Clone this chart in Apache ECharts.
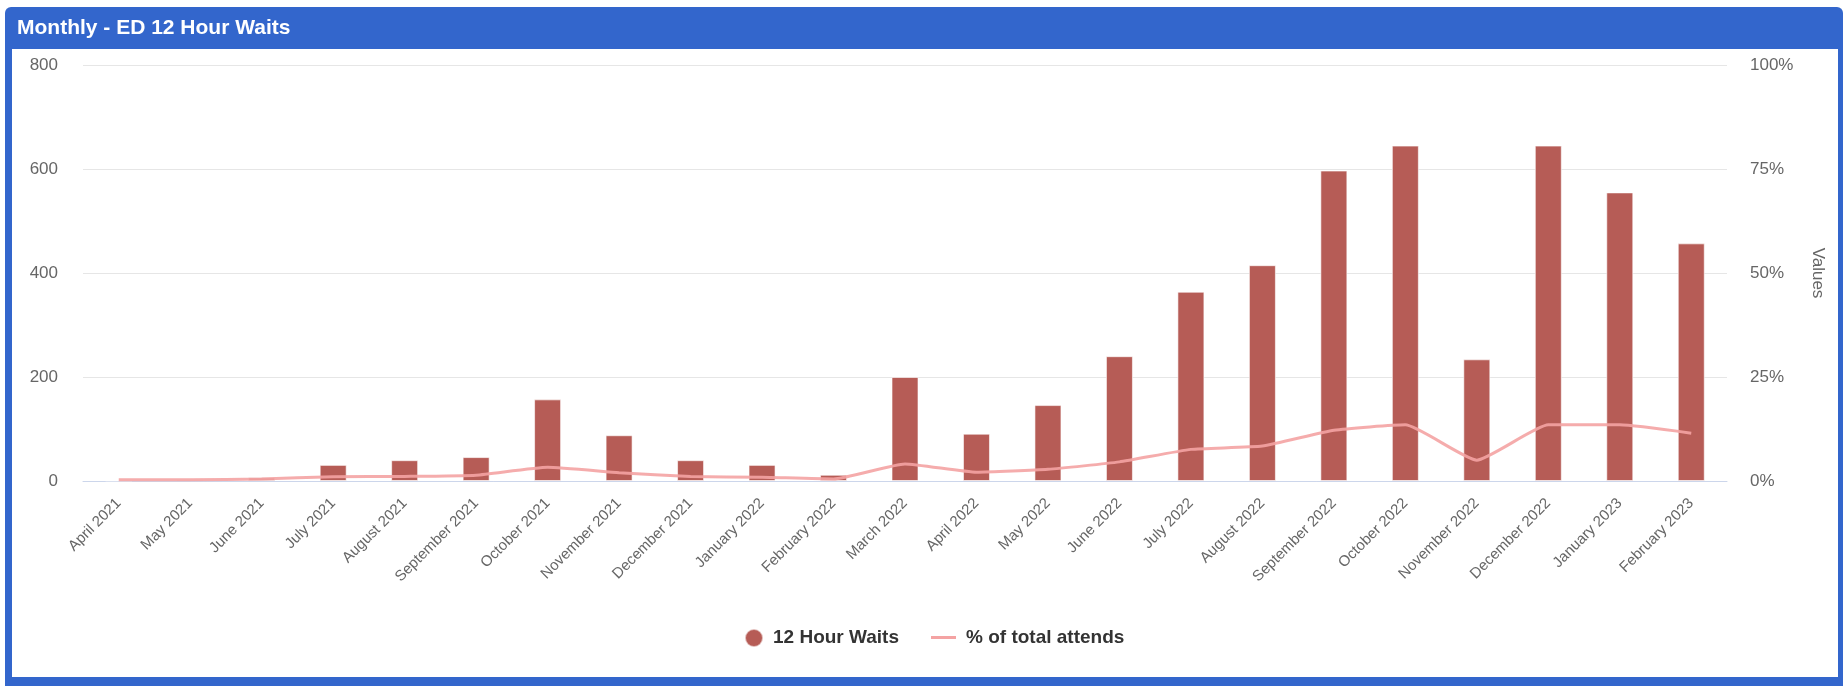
<!DOCTYPE html>
<html>
<head>
<meta charset="utf-8">
<title>Monthly - ED 12 Hour Waits</title>
<script src="https://cdn.jsdelivr.net/npm/echarts@6/dist/echarts.min.js"></script>
<style>
  html, body { margin: 0; padding: 0; background: #ffffff; }
  #chart { width: 1843px; height: 686px; }
</style>
</head>
<body>
<div id="chart"></div>
<script>
// Months shown on the category axis
const months = [
  'April 2021', 'May 2021', 'June 2021', 'July 2021', 'August 2021',
  'September 2021', 'October 2021', 'November 2021', 'December 2021',
  'January 2022', 'February 2022', 'March 2022', 'April 2022', 'May 2022',
  'June 2022', 'July 2022', 'August 2022', 'September 2022', 'October 2022',
  'November 2022', 'December 2022', 'January 2023', 'February 2023'
];

// Number of patients waiting 12+ hours in ED each month
const waits12h = [
  1, 3, 7, 31, 40, 46, 157, 88, 40, 31, 12, 200,
  91, 146, 240, 364, 415, 597, 645, 234, 645, 555, 457
];

// 12 hour waits as a share of total attendances (%)
const pctOfAttends = [
  0.3, 0.3, 0.5, 1.0, 1.1, 1.4, 3.3, 2.0, 1.1, 0.9, 0.5, 4.1,
  2.1, 2.8, 4.6, 7.6, 8.4, 12.2, 13.5, 5.0, 13.5, 13.5, 11.5
];

const FONT = '"Liberation Sans", Arial, sans-serif';
const BLUE = '#3366cc';
const BAR = '#b65c56';
const LINE = '#f4a3a3';

const chart = echarts.init(document.getElementById('chart'), null, { renderer: 'canvas' });

chart.setOption({
  animation: false,
  textStyle: { fontFamily: FONT },
  graphic: [
    {
      type: 'rect', z: -100, silent: true,
      shape: { x: 5, y: 7, width: 1838, height: 679, r: [6, 6, 0, 0] },
      style: { fill: BLUE }
    },
    {
      type: 'rect', z: -99, silent: true,
      shape: { x: 12, y: 49, width: 1826, height: 628 },
      style: { fill: '#ffffff' }
    }
  ],
  title: {
    text: 'Monthly - ED 12 Hour Waits',
    left: 12,
    top: 13,
    textStyle: { color: '#ffffff', fontSize: 21, fontWeight: 'bold', fontFamily: FONT }
  },
  legend: [
    {
      data: [{ name: '12 Hour Waits', icon: 'circle' }],
      left: 744,
      top: 628,
      padding: 0,
      itemWidth: 18,
      itemHeight: 18,
      itemGap: 10,
      textStyle: { color: '#333333', fontSize: 19, fontWeight: 'bold', fontFamily: FONT, padding: [0, 0, 0, 5] }
    },
    {
      data: [{ name: '% of total attends', icon: 'rect' }],
      left: 931,
      top: 628,
      padding: 0,
      itemWidth: 25,
      itemHeight: 3,
      itemGap: 8,
      textStyle: { color: '#333333', fontSize: 19, fontWeight: 'bold', fontFamily: FONT, padding: [0, 0, 0, 5] }
    }
  ],
  grid: {
    left: 83,
    right: 116,
    top: 65,
    bottom: 205,
    containLabel: false
  },
  xAxis: {
    type: 'category',
    data: months,
    axisLine: { lineStyle: { color: '#ccd6eb', width: 1 } },
    axisTick: { show: false },
    axisLabel: {
      rotate: 45,
      margin: 20,
      color: '#666666',
      fontSize: 15,
      fontFamily: FONT,
      interval: 0
    }
  },
  yAxis: [
    {
      type: 'value',
      min: 0,
      max: 800,
      interval: 200,
      axisLine: { show: false },
      axisTick: { show: false },
      axisLabel: { color: '#666666', fontSize: 17, margin: 25, fontFamily: FONT },
      splitLine: { lineStyle: { color: '#e6e6e6', width: 1 } }
    },
    {
      type: 'value',
      min: 0,
      max: 100,
      interval: 25,
      position: 'right',
      name: 'Values',
      nameLocation: 'middle',
      nameRotate: -90,
      nameGap: 82,
      nameTextStyle: { color: '#666666', fontSize: 17, fontFamily: FONT },
      axisLine: { show: false },
      axisTick: { show: false },
      axisLabel: { color: '#666666', fontSize: 17, margin: 23, formatter: '{value}%', fontFamily: FONT },
      splitLine: { show: false }
    }
  ],
  series: [
    {
      name: '12 Hour Waits',
      type: 'bar',
      yAxisIndex: 0,
      data: waits12h,
      barWidth: 27,
      itemStyle: { color: BAR, borderColor: 'rgba(255,255,255,0.6)', borderWidth: 1 },
      z: 2
    },
    {
      name: '% of total attends',
      type: 'line',
      yAxisIndex: 1,
      data: pctOfAttends,
      symbol: 'none',
      smooth: 0.15,
      itemStyle: { color: LINE },
      lineStyle: { color: LINE, width: 3, opacity: 0.9 },
      z: 3
    }
  ]
});
</script>
</body>
</html>
